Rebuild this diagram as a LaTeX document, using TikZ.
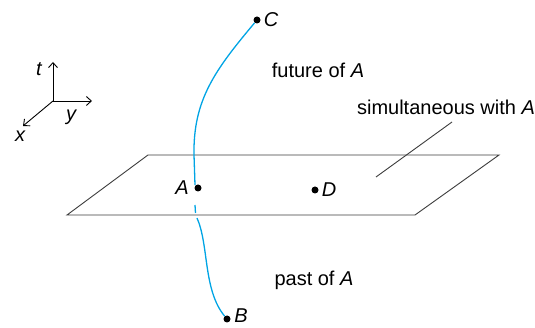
\documentclass[tikz,border=0pt]{standalone}
\usepackage{fontspec}
\setmainfont{Liberation Sans}
\usetikzlibrary{arrows.meta,calc}

\definecolor{worldline}{RGB}{0,164,228}
\definecolor{planegray}{RGB}{60,60,60}

\begin{document}
\begin{tikzpicture}[x=1pt, y=-1pt, font=\fontsize{20}{24}\selectfont,
  curve/.style={worldline, line width=1.3pt},
  plane/.style={planegray, line width=0.9pt},
  event/.style={circle, fill=black, inner sep=0pt, minimum size=7pt},
  axis/.style={line width=0.9pt, -{Straight Barb[length=5pt, width=9pt]}},
  lbl/.style={inner sep=0pt}
  ]
\useasboundingbox (0,0) rectangle (535,328);

% Axes
\coordinate (o) at (53,101);
\coordinate (tend) at (53,62);
\coordinate (yend) at (92,101);
\coordinate (xend) at (23,126);
\draw[axis] (o) -- (tend);
\draw[axis] (o) -- (yend);
\draw[axis] (o) -- (xend);
\node[lbl] (tlbl) at (39,69) {\itshape t};
\node[lbl] (ylbl) at (71,117) {\itshape y};
\node[lbl] (xlbl) at (20,136) {\itshape x};

% Plane of simultaneity
\coordinate (p1) at (148,155);
\coordinate (p2) at (499,155);
\coordinate (p3) at (415,215);
\coordinate (p4) at (67,215);
\draw[plane] (p1) -- (p2) -- (p3) -- (p4) -- cycle;

% Leader line
\coordinate (lead1) at (376,177);
\coordinate (lead2) at (452,122);
\draw[white, line width=5pt] ($(lead1)!0.55!(lead2)$) -- ($(lead1)!0.75!(lead2)$);
\draw[plane] (lead1) -- (lead2);

% World line
\coordinate (a1) at (195,185);
\coordinate (h1) at (195,205);
\coordinate (h2) at (195.5,213);
\coordinate (b1) at (197,218);
\node[event] (C) at (257,20) {};
\node[event] (A) at (198,188) {};
\node[event] (B) at (227,319) {};
\node[event] (D) at (315,190) {};
\draw[curve] (C) .. controls (215,70) and (193,100) .. (194,155) -- (a1);
\draw[curve] (h1) -- (h2);
\draw[curve] (b1) .. controls (209,245) and (203,290) .. (B);

% Labels
\node[lbl] (Clbl) at (271,20) {\itshape C};
\node[lbl] (Albl) at (182,188) {\itshape A};
\node[lbl] (Blbl) at (241,316) {\itshape B};
\node[lbl] (Dlbl) at (329,190) {\itshape D};
\node[lbl] (future) at (318,70) {future of \textit{A}};
\node[lbl] (past) at (314,280) {past of \textit{A}};
\node[lbl] (simul) at (446,107) {simultaneous with \textit{A}};

\end{tikzpicture}
\end{document}
